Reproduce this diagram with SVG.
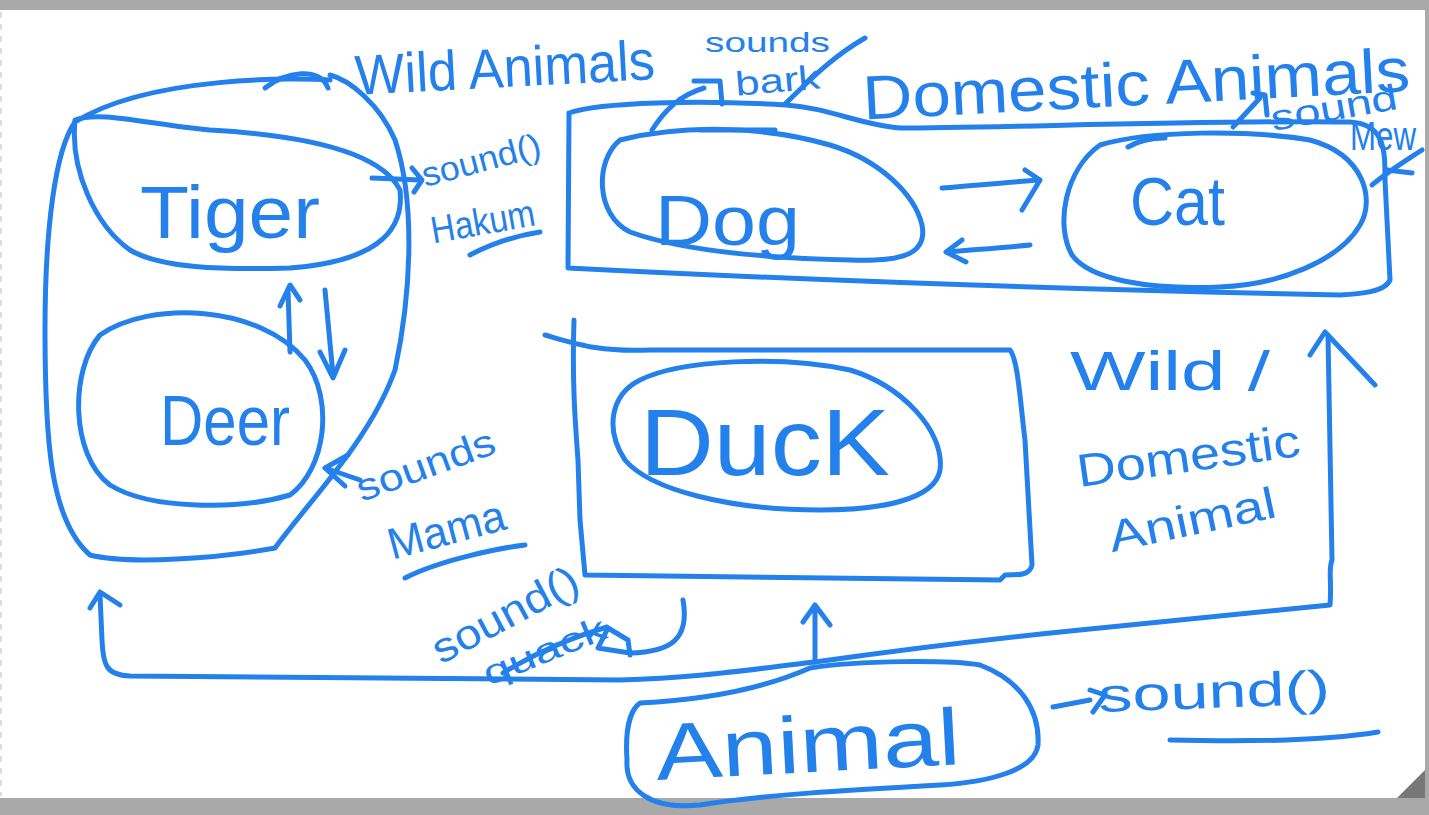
<svg xmlns="http://www.w3.org/2000/svg" width="1429" height="815" viewBox="0 0 1429 815">
<style>
.s{fill:none;stroke:#2480ea;stroke-width:5;stroke-linecap:round;stroke-linejoin:round}
.t{fill:#2480ea;font-family:"Liberation Sans","DejaVu Sans",sans-serif}
</style>
<rect x="0" y="0" width="1429" height="815" fill="#a9a9a9"/>
<rect x="0" y="10" width="1425" height="788" fill="#ffffff"/>
<line x1="1" y1="12" x2="1" y2="796" stroke="#dddddd" stroke-width="2" stroke-dasharray="6 6"/>
<polygon points="1397,798 1425,798 1425,770" fill="#777777"/>

<g id="wild-animals">
<path class="s" d="M330,80 C300,78 150,75 75,122 C55,150 45,230 45,330 C45,440 50,520 90,555 C130,565 220,558 275,548 C310,500 370,440 395,370 C412,290 415,200 395,140 C380,105 350,80 330,75"/>
<path class="s" d="M265,88 C285,72 320,66 328,88"/>
<text class="t" x="355" y="87" font-size="56" textLength="300" lengthAdjust="spacingAndGlyphs" transform="rotate(-3 505 70)">Wild Animals</text>
</g>

<g id="tiger">
<path class="s" d="M75,120 C100,110 150,125 210,130 C300,135 380,150 400,190 C405,235 370,262 290,268 C220,270 160,268 130,250 C95,225 70,170 75,120 Z"/>
<text class="t" x="140" y="238" font-size="74" textLength="180" lengthAdjust="spacingAndGlyphs">Tiger</text>
</g>

<g id="deer">
<path class="s" d="M100,335 C150,300 260,305 305,360 C335,400 325,470 290,495 C240,510 150,510 110,485 C70,455 70,370 100,335 Z"/>
<text class="t" x="160" y="445" font-size="70" textLength="130" lengthAdjust="spacingAndGlyphs">Deer</text>
</g>

<g id="domestic-animals">
<path class="s" d="M569,113 C600,102 700,100 786,105 C830,108 860,125 900,128 C1000,128 1200,120 1350,122 C1385,124 1385,150 1385,180 L1390,280 C1385,292 1360,294 1340,295 C1100,290 800,280 568,268 L569,113"/>
<text class="t" x="862" y="105" font-size="62" textLength="548" lengthAdjust="spacingAndGlyphs" transform="rotate(-3 1140 80)">Domestic Animals</text>
</g>

<g id="dog">
<path class="s" d="M620,140 C680,125 760,125 830,145 C880,160 915,195 922,225 C928,255 900,262 850,260 C760,258 680,250 630,232 C595,215 595,160 620,140 Z"/>
<path class="s" d="M700,130 L775,130"/>
<text class="t" x="655" y="245" font-size="70" textLength="145" lengthAdjust="spacingAndGlyphs">Dog</text>
</g>

<g id="cat">
<path class="s" d="M1100,145 C1150,130 1250,130 1310,140 C1365,155 1375,200 1360,225 C1340,260 1280,285 1220,287 C1150,290 1090,280 1072,255 C1055,225 1065,170 1100,145 Z"/>
<path class="s" d="M1128,147 C1140,140 1155,138 1165,138"/>
<text class="t" x="1130" y="225" font-size="68" textLength="95" lengthAdjust="spacingAndGlyphs">Cat</text>
</g>

<g id="duck-box">
<path class="s" d="M545,335 C580,345 600,352 650,350 L1010,350 C1018,360 1020,400 1025,440 L1032,565 C1030,575 1020,575 1005,575 L1000,580 L585,575 L580,520 L578,460 C575,420 572,380 574,320"/>
</g>

<g id="duck">
<path class="s" d="M640,380 C680,360 780,355 850,370 C900,385 945,430 940,470 C935,500 880,510 820,510 C730,510 650,490 625,460 C605,430 610,395 640,380 Z"/>
<text class="t" x="640" y="475" font-size="94" textLength="250" lengthAdjust="spacingAndGlyphs">DucK</text>
</g>

<g id="animal">
<path class="s" d="M640,703 C700,700 760,690 810,668 C860,660 950,660 980,665 C1020,680 1040,710 1038,745 C1035,770 990,782 940,785 C850,790 760,795 700,805 C650,810 625,790 627,760 C625,730 630,710 640,703 Z"/>
<text class="t" x="655" y="772" font-size="80" textLength="305" lengthAdjust="spacingAndGlyphs" transform="rotate(-3 810 740)">Animal</text>
</g>

<g id="wild-domestic-label">
<text class="t" x="1070" y="390" font-size="56" textLength="200" lengthAdjust="spacingAndGlyphs">Wild /</text>
<text class="t" x="1075" y="472" font-size="46" textLength="225" lengthAdjust="spacingAndGlyphs" transform="rotate(-8 1185 450)">Domestic</text>
<text class="t" x="1105" y="535" font-size="44" textLength="170" lengthAdjust="spacingAndGlyphs" transform="rotate(-12 1190 510)">Animal</text>
</g>

<g id="labels">
<text class="t" x="420" y="172" font-size="34" textLength="122" lengthAdjust="spacingAndGlyphs" transform="rotate(-15 480 160)">sound()</text>
<text class="t" x="430" y="235" font-size="38" textLength="105" lengthAdjust="spacingAndGlyphs" transform="rotate(-10 480 220)">Hakum</text>
<text class="t" x="352" y="478" font-size="38" textLength="145" lengthAdjust="spacingAndGlyphs" transform="rotate(-20 425 462)">sounds</text>
<text class="t" x="385" y="545" font-size="44" textLength="120" lengthAdjust="spacingAndGlyphs" transform="rotate(-15 445 525)">Mama</text>
<text class="t" x="420" y="630" font-size="42" textLength="160" lengthAdjust="spacingAndGlyphs" transform="rotate(-28 500 605)">sound()</text>
<text class="t" x="478" y="664" font-size="34" textLength="130" lengthAdjust="spacingAndGlyphs" transform="rotate(-22 540 648)">quack</text>
<text class="t" x="705" y="52" font-size="28" textLength="125" lengthAdjust="spacingAndGlyphs">sounds</text>
<text class="t" x="735" y="92" font-size="34" textLength="85" lengthAdjust="spacingAndGlyphs" transform="rotate(-5 778 80)">bark</text>
<text class="t" x="1270" y="120" font-size="36" textLength="128" lengthAdjust="spacingAndGlyphs" transform="rotate(-10 1334 108)">sound</text>
<text class="t" x="1350" y="150" font-size="40" textLength="66" lengthAdjust="spacingAndGlyphs">Mew</text>
<text class="t" x="1098" y="708" font-size="48" textLength="232" lengthAdjust="spacingAndGlyphs" transform="rotate(-2 1210 690)">sound()</text>
</g>

<g id="connectors">
<path class="s" d="M372,178 L420,180 M412,168 L422,180 L414,192"/>
<path class="s" d="M470,255 C495,242 520,235 540,232"/>
<path class="s" d="M290,352 L288,290 M280,306 L290,285 L300,300"/>
<path class="s" d="M325,290 L333,375 M320,352 L333,378 L345,350"/>
<path class="s" d="M360,480 L325,468 M348,455 L325,468 L345,486"/>
<path class="s" d="M405,578 C440,560 500,548 525,545"/>
<path class="s" d="M683,600 C690,640 670,652 630,653 L598,648 L608,628 L628,640 L630,655"/>
<path class="s" d="M503,673 C540,650 580,635 607,627"/>
<path class="s" d="M942,188 C980,185 1010,182 1040,180 L1022,210 M1025,170 L1040,180"/>
<path class="s" d="M1030,245 C1000,248 970,250 948,252 M962,240 L946,252 L966,262"/>
<path class="s" d="M652,130 C665,110 680,95 704,88 M694,81 L720,81 L722,104"/>
<path class="s" d="M785,104 C805,85 830,58 865,38"/>
<path class="s" d="M1233,127 L1260,98 M1253,93 L1265,95 L1267,115"/>
<path class="s" d="M1372,185 C1390,170 1410,158 1422,150 M1387,170 L1412,173"/>
<path class="s" d="M815,662 L815,608 M803,622 L815,605 L830,625"/>
<path class="s" d="M100,595 L102,640 C103,665 106,675 130,676 L620,680 C700,678 760,668 815,662 C900,650 1000,638 1080,630 L1330,605 C1332,580 1328,570 1332,560 L1328,335 M1310,355 L1325,332 L1375,385 M90,608 L100,592 L120,605"/>
<path class="s" d="M1053,707 L1090,700 M1090,690 L1105,695 L1093,712"/>
<path class="s" d="M1170,740 C1250,742 1330,740 1378,732"/>
</g>
</svg>
